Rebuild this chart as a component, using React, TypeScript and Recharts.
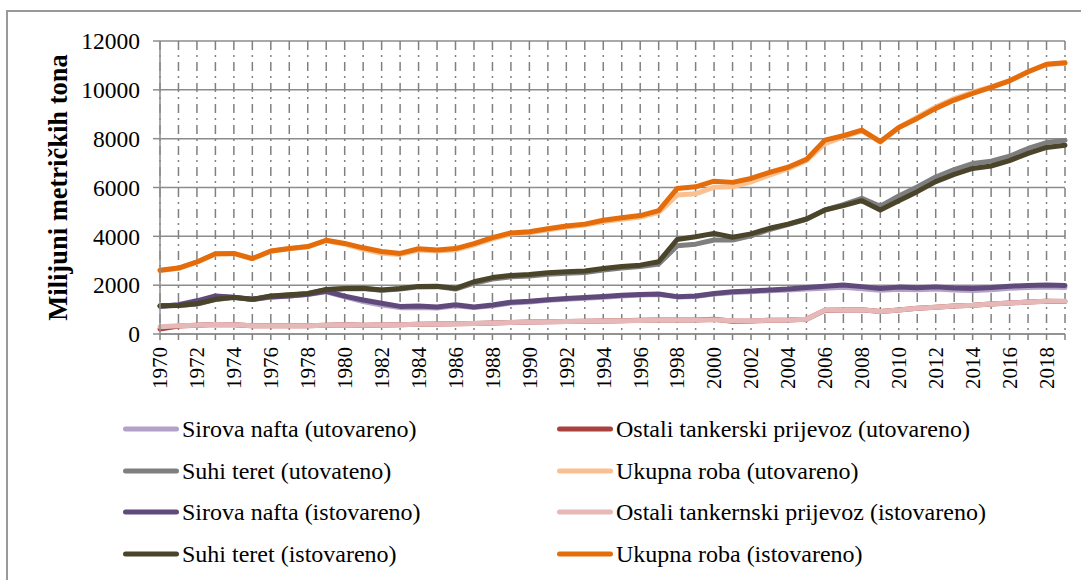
import React from 'react';
import { LineChart, Line, XAxis, YAxis, CartesianGrid, Legend } from 'recharts';

const years = [
  1970, 1971, 1972, 1973, 1974, 1975, 1976, 1977, 1978, 1979,
  1980, 1981, 1982, 1983, 1984, 1985, 1986, 1987, 1988, 1989,
  1990, 1991, 1992, 1993, 1994, 1995, 1996, 1997, 1998, 1999,
  2000, 2001, 2002, 2003, 2004, 2005, 2006, 2007, 2008, 2009,
  2010, 2011, 2012, 2013, 2014, 2015, 2016, 2017, 2018, 2019,
];

const sirovaUtov = [
  1130, 1190, 1310, 1550, 1500, 1410, 1510, 1560, 1620, 1730,
  1520, 1330, 1190, 1080, 1090, 1060, 1160, 1080, 1160, 1270,
  1310, 1380, 1420, 1460, 1510, 1560, 1600, 1620, 1520, 1540,
  1640, 1700, 1730, 1770, 1800, 1840, 1870, 1910, 1850, 1790,
  1830, 1810, 1840, 1800, 1780, 1810, 1870, 1900, 1920, 1900,
];
const ostaliUtov = [
  200, 330, 360, 390, 380, 340, 340, 340, 340, 360,
  380, 360, 370, 380, 400, 410, 420, 430, 450, 470,
  490, 500, 510, 520, 530, 540, 560, 570, 570, 570,
  600, 520, 530, 560, 570, 600, 970, 980, 990, 920,
  980, 1050, 1100, 1150, 1180, 1230, 1270, 1310, 1340, 1330,
];
const suhiUtov = [
  1160, 1170, 1230, 1410, 1490, 1410, 1550, 1600, 1650, 1810,
  1850, 1860, 1790, 1840, 1930, 1940, 1840, 2080, 2250, 2340,
  2380, 2450, 2490, 2520, 2620, 2700, 2760, 2870, 3610, 3680,
  3850, 3850, 4020, 4280, 4480, 4700, 5080, 5300, 5560, 5230,
  5650, 6020, 6430, 6730, 6980, 7080, 7280, 7600, 7840, 7930,
];
const ukupnaUtov = [
  2600, 2690, 2940, 3280, 3290, 3080, 3390, 3490, 3570, 3820,
  3680, 3470, 3310, 3260, 3440, 3400, 3450, 3650, 3900, 4100,
  4150, 4270, 4380, 4460, 4610, 4700, 4790, 4980, 5690, 5740,
  6010, 6030, 6230, 6510, 6770, 7110, 7800, 8070, 8320, 7860,
  8450, 8880, 9300, 9640, 9900, 10120, 10380, 10730, 11040, 11090,
];
const sirovaIstov = [
  1140, 1200, 1360, 1560, 1510, 1420, 1520, 1560, 1630, 1750,
  1550, 1390, 1260, 1130, 1150, 1110, 1200, 1110, 1190, 1300,
  1340, 1400, 1450, 1490, 1540, 1590, 1620, 1640, 1530, 1560,
  1660, 1730, 1760, 1800, 1840, 1900, 1960, 2010, 1940, 1860,
  1920, 1890, 1930, 1880, 1860, 1900, 1960, 1990, 2010, 1990,
];
const ostaliIstov = [
  300, 340, 360, 390, 380, 340, 340, 340, 340, 360,
  380, 360, 370, 380, 400, 410, 420, 430, 450, 470,
  490, 500, 510, 520, 530, 540, 550, 570, 570, 570,
  580, 540, 540, 560, 570, 600, 980, 980, 990, 920,
  980, 1050, 1100, 1150, 1180, 1230, 1270, 1310, 1340, 1340,
];
const suhiIstov = [
  1160, 1170, 1240, 1420, 1500, 1420, 1560, 1610, 1660, 1820,
  1860, 1870, 1800, 1860, 1950, 1960, 1870, 2140, 2310, 2400,
  2440, 2510, 2550, 2580, 2680, 2760, 2820, 2960, 3870, 3980,
  4120, 3960, 4100, 4330, 4500, 4710, 5080, 5260, 5460, 5080,
  5460, 5830, 6240, 6540, 6780, 6880, 7100, 7400, 7640, 7730,
];
const ukupnaIstov = [
  2610, 2700, 2950, 3290, 3300, 3090, 3400, 3500, 3580, 3840,
  3710, 3530, 3380, 3300, 3490, 3440, 3500, 3700, 3950, 4140,
  4190, 4310, 4420, 4500, 4660, 4760, 4850, 5050, 5960, 6030,
  6260, 6210, 6370, 6620, 6830, 7150, 7940, 8120, 8350, 7880,
  8460, 8830, 9240, 9580, 9850, 10100, 10370, 10740, 11050, 11110,
];

const yTicks = [0, 2000, 4000, 6000, 8000, 10000, 12000];

const seriesNames = [
  'Sirova nafta (utovareno)',
  'Ostali tankerski prijevoz (utovareno)',
  'Suhi teret (utovateno)',
  'Ukupna roba (utovareno)',
  'Sirova nafta (istovareno)',
  'Ostali tankernski prijevoz (istovareno)',
  'Suhi teret (istovareno)',
  'Ukupna roba (istovareno)',
];
const seriesKeys = ['s1', 's2', 's3', 's4', 's5', 's6', 's7', 's8'];
const seriesColors = [
  '#b3a2c7', '#a9413e', '#7f7f7f', '#fac090',
  '#604a7b', '#e6b9b8', '#4a452a', '#e46c0a',
];
const seriesValues = [
  sirovaUtov, ostaliUtov, suhiUtov, ukupnaUtov,
  sirovaIstov, ostaliIstov, suhiIstov, ukupnaIstov,
];

const data = years.map((y, i) => {
  const row: any = { year: y };
  seriesKeys.forEach((k, j) => {
    row[k] = seriesValues[j][i];
  });
  return row;
});

const FONT = 'Liberation Serif, Tinos, Times New Roman, serif';

const XTick = (props: any) => {
  const { x, y, payload } = props;
  const yr = Number(payload.value);
  if (yr % 2 !== 0) return <g />;
  return (
    <text
      x={x}
      y={y}
      transform={`rotate(-90, ${x}, ${y})`}
      textAnchor="end"
      dy="0.35em"
      style={{ fontSize: 21, fontFamily: FONT }}
      fill="#000"
    >
      {payload.value}
    </text>
  );
};

const YTick = (props: any) => {
  const { x, y, payload } = props;
  return (
    <text
      x={x}
      y={y}
      textAnchor="end"
      dy="0.35em"
      style={{ fontSize: 23.5, fontFamily: FONT }}
      fill="#000"
    >
      {payload.value}
    </text>
  );
};

const YLabel = (props: any) => {
  const vb = props.viewBox || { x: 0, y: 41, width: 160, height: 293 };
  const cx = vb.x + 58;
  const cy = vb.y + vb.height / 2;
  return (
    <text
      x={cx}
      y={cy}
      transform={`rotate(-90, ${cx}, ${cy})`}
      textAnchor="middle"
      dy="0.35em"
      style={{ fontSize: 26.5, fontWeight: 'bold', fontFamily: FONT }}
      fill="#000"
    >
      Milijuni metričkih tona
    </text>
  );
};

const LegendContent = (props: any) => {
  const payload = [...(props.payload || [])].sort(
    (a: any, b: any) => seriesNames.indexOf(a.value) - seriesNames.indexOf(b.value)
  );
  return (
    <div
      style={{
        position: 'absolute',
        left: 123,
        top: 408,
        display: 'grid',
        gridTemplateColumns: '434px 460px',
        gridAutoRows: '41.7px',
      }}
    >
      {payload.map((p: any) => (
        <div
          key={p.value}
          style={{ display: 'flex', alignItems: 'center', whiteSpace: 'nowrap' }}
        >
          <svg width={56} height={8} style={{ display: 'block', flex: 'none' }}>
            <line x1={2.5} y1={4} x2={53.5} y2={4} stroke={p.color} strokeWidth={5} strokeLinecap="round" />
          </svg>
          <span
            style={{
              marginLeft: 3,
              fontSize: 24,
              lineHeight: '24px',
              fontFamily: FONT,
              color: '#000',
            }}
          >
            {p.value}
          </span>
        </div>
      ))}
    </div>
  );
};

export default function App() {
  return (
    <div
      style={{
        position: 'fixed',
        left: 0,
        top: 0,
        width: 1081,
        height: 580,
        overflow: 'hidden',
        background: '#fff',
        fontFamily: FONT,
      }}
    >
      <div
        style={{
          position: 'absolute',
          left: 6,
          top: 10,
          width: 1100,
          height: 600,
          border: '2px solid #999',
          boxSizing: 'border-box',
        }}
      />
      <div style={{ position: 'absolute', left: 0, top: 0 }}>
        <LineChart
          width={1081}
          height={580}
          data={data}
          margin={{ top: 41, right: 16, left: 0, bottom: 186 }}
          style={{ fontFamily: FONT }}
        >
          <CartesianGrid vertical={false} stroke="#8c8c8c" strokeWidth={1.5} />
          <CartesianGrid horizontal={false} stroke="#808080" strokeWidth={1.5} strokeDasharray="9 5 2 5" />
          <XAxis
            dataKey="year"
            interval={0}
            tickSize={6}
            tickMargin={7}
            height={60}
            tick={<XTick />}
            tickLine={{ stroke: '#808080', strokeWidth: 1.5 }}
            axisLine={{ stroke: '#8c8c8c', strokeWidth: 1.5 }}
          />
          <YAxis
            width={160}
            domain={[0, 12000]}
            ticks={yTicks}
            interval={0}
            tickSize={7}
            tickMargin={13}
            tick={<YTick />}
            tickLine={{ stroke: '#8c8c8c', strokeWidth: 1.5 }}
            axisLine={{ stroke: '#8c8c8c', strokeWidth: 1.5 }}
            label={<YLabel />}
          />
          {seriesKeys.map((k, j) => (
            <Line
              key={k}
              type="linear"
              dataKey={k}
              name={seriesNames[j]}
              stroke={seriesColors[j]}
              strokeWidth={5}
              strokeLinejoin="round"
              strokeLinecap="round"
              dot={false}
              activeDot={false}
              isAnimationActive={false}
            />
          ))}
          <Legend
            layout="horizontal"
            verticalAlign="middle"
            align="center"
            content={<LegendContent />}
            wrapperStyle={{ left: 0, top: 0, width: 1081, height: 0 }}
          />
        </LineChart>
      </div>
    </div>
  );
}
